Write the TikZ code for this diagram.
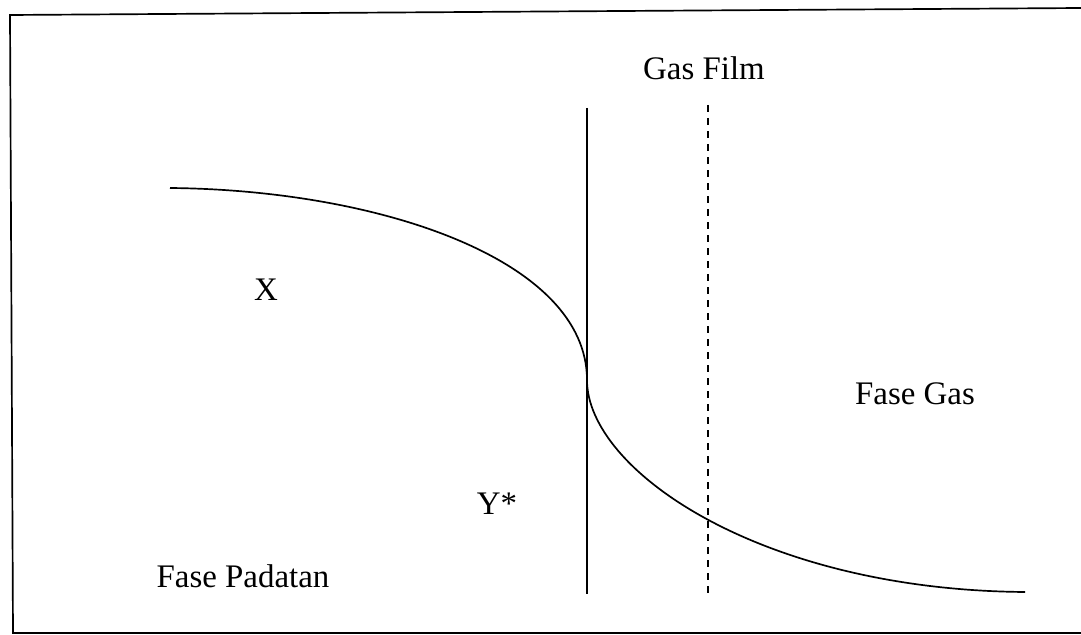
\documentclass[tikz,border=0pt]{standalone}
\usepackage{fontspec}
\setmainfont{Liberation Serif}
\begin{document}
\begin{tikzpicture}[x=0.025cm, y=-0.025cm, line width=1.2pt,
		lbl/.style={font=\fontsize{23.4pt}{28pt}\selectfont, anchor=base, inner sep=0pt},
		filmline/.style={line width=1.1pt, dash pattern=on 0.175cm off 0.15cm}]

		\useasboundingbox (0,0) rectangle (1081,635);
		\draw (1081,8) -- (10,15) -- (13,633) -- (1081,633);

		% interface and film boundary
		\coordinate (ifTop) at (587,108);
		\coordinate (ifBot) at (587,594);
		\coordinate (filmTop) at (708,105);
		\coordinate (filmBot) at (708,594);
		\draw (ifTop) -- (ifBot);
		\draw[filmline] (filmTop) -- (filmBot);

		% concentration profile
		\coordinate (cStart) at (170,188);
		\coordinate (cMid) at (587,380);
		\coordinate (cEnd) at (1025,592);
		\draw (cStart) .. controls (380,190) and (587,260) .. (cMid)
			.. controls (587,470) and (760,590) .. (cEnd);

		\node[lbl] (gasfilm) at (704,80) {Gas Film};
		\node[lbl] (x) at (266,301) {X};
		\node[lbl] (ystar) at (497,515) {Y*};
		\node[lbl] (padatan) at (243,588) {Fase Padatan};
		\node[lbl] (fasegas) at (915,405) {Fase Gas};

	\end{tikzpicture}
\end{document}
